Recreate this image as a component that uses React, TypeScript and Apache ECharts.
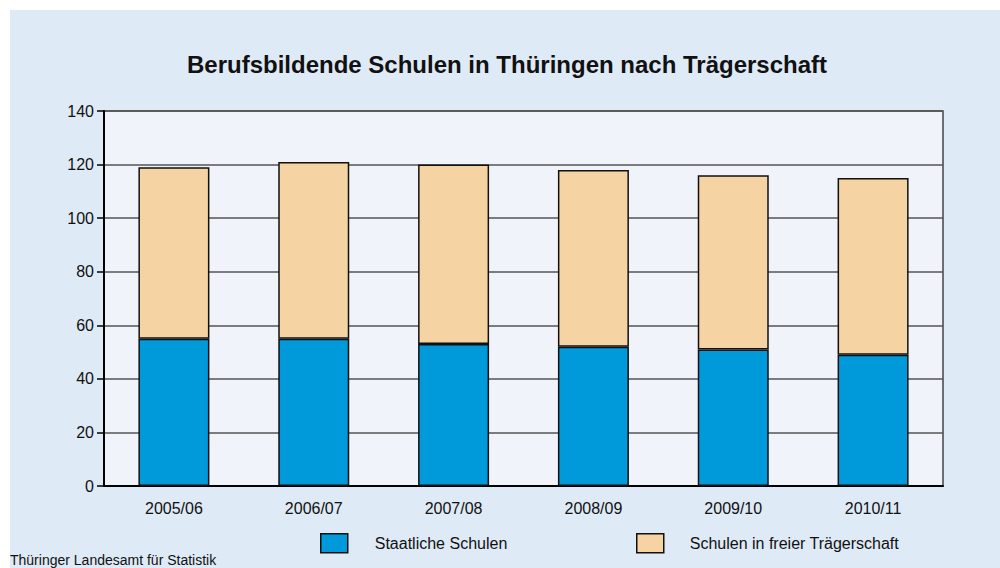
import React, { useEffect, useRef } from "react";
import * as echarts from "echarts";

const categories = ["2005/06", "2006/07", "2007/08", "2008/09", "2009/10", "2010/11"];
const staatlich = [55, 55, 53, 52, 51, 49];
const totals = [119, 121, 120, 118, 116, 115];
const frei = totals.map((t, i) => t - staatlich[i]);
const yTicks = [0, 20, 40, 60, 80, 100, 120, 140];

const seriesNames = ["Staatliche Schulen", "Schulen in freier Trägerschaft"];
const colors = ["#009ADA", "#F5D3A3"];
const titleText = "Berufsbildende Schulen in Thüringen nach Trägerschaft";
const sourceText = "Thüringer Landesamt für Statistik";

export default function App() {
  const ref = useRef<HTMLDivElement>(null);
  useEffect(() => {
    if (!ref.current) return;
    const chart = echarts.init(ref.current, null, { renderer: "svg" });
    const font = "'Liberation Sans', Arial, sans-serif";
    chart.setOption({
      animation: false,
      backgroundColor: "#ffffff",
      textStyle: { fontFamily: font },
      graphic: [
        {
          type: "rect",
          z: -10,
          silent: true,
          shape: { x: 10, y: 10, width: 990, height: 558 },
          style: { fill: "#DEEAF6" },
        },
        {
          type: "text",
          left: 10,
          top: 553,
          style: { text: sourceText, fontSize: 14, fill: "#111", fontFamily: font },
        },
      ],
      title: {
        text: titleText,
        left: 502,
        textAlign: "center",
        top: 47,
        textStyle: { fontSize: 24, fontWeight: "bold", color: "#111", fontFamily: font },
      },
      legend: [
        {
          left: 320,
          top: 533,
          padding: 0,
          itemWidth: 27,
          itemHeight: 19,
          icon: "rect",
          data: [{ name: seriesNames[0], itemStyle: { borderColor: "#111", borderWidth: 1.5 } }],
          textStyle: { fontSize: 16, color: "#111", padding: [0, 0, 0, 22] },
        },
        {
          left: 636,
          top: 533,
          padding: 0,
          itemWidth: 27,
          itemHeight: 19,
          icon: "rect",
          data: [{ name: seriesNames[1], itemStyle: { borderColor: "#111", borderWidth: 1.5 } }],
          textStyle: { fontSize: 16, color: "#111", padding: [0, 0, 0, 21] },
        },
      ],
      grid: {
        left: 104,
        right: 57,
        top: 111,
        bottom: 82,
        show: true,
        backgroundColor: "#F0F4FA",
        borderColor: "#444",
        borderWidth: 1.5,
      },
      xAxis: {
        type: "category",
        data: categories,
        axisLine: { lineStyle: { color: "#000", width: 2 } },
        axisTick: { show: false },
        axisLabel: { fontSize: 16, color: "#111", margin: 14 },
      },
      yAxis: {
        type: "value",
        min: yTicks[0],
        max: yTicks[yTicks.length - 1],
        interval: 20,
        axisLine: { show: true, lineStyle: { color: "#000", width: 2 } },
        axisTick: { show: true, length: 7, lineStyle: { color: "#000", width: 1.5 } },
        axisLabel: { fontSize: 16, color: "#111", margin: 10 },
        splitLine: { lineStyle: { color: "#555", width: 1.5 } },
      },
      series: [
        {
          name: seriesNames[0],
          type: "bar",
          stack: "a",
          barWidth: 71,
          data: staatlich,
          itemStyle: { color: colors[0], borderColor: "#111", borderWidth: 1.5 },
        },
        {
          name: seriesNames[1],
          type: "bar",
          stack: "a",
          barWidth: 71,
          data: frei,
          itemStyle: { color: colors[1], borderColor: "#111", borderWidth: 1.5 },
        },
      ],
    });
    return () => chart.dispose();
  }, []);
  return (
    <div
      ref={ref}
      style={{ position: "fixed", left: 0, top: 0, width: 1000, height: 568 }}
    />
  );
}
